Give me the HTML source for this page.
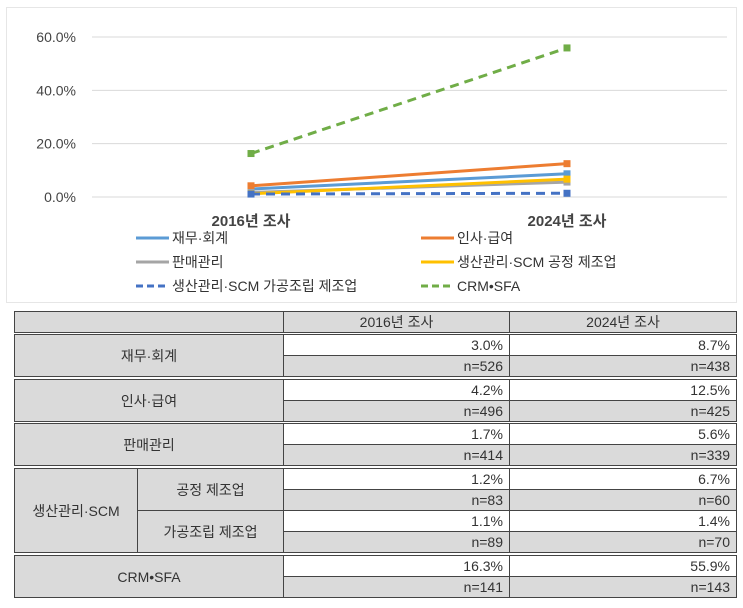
<!DOCTYPE html>
<html><head><meta charset="utf-8"><style>
body{margin:0;background:#fff;width:743px;height:608px;position:relative;overflow:hidden;font-family:"Liberation Sans","Noto Sans CJK KR",sans-serif;}
#frame{position:absolute;left:6px;top:7px;width:731px;height:296px;border:1px solid #e6e6e6;box-sizing:border-box}
.c{position:absolute;box-sizing:border-box;font-size:14px;color:#333;display:flex;align-items:center;border:1px solid #444}
.g{background:#dadada}.w{background:#fff}
.ctr{justify-content:center}.r{justify-content:flex-end;padding-right:6px}
</style></head><body>
<div id="frame"></div>
<svg id="chart" width="743" height="310" style="position:absolute;left:0;top:0"></svg>
<div id="table"></div>
<script>
const categories=["2016년 조사","2024년 조사"];
const yTicks=[0,20,40,60];
const seriesNames=["재무·회계","인사·급여","판매관리","생산관리·SCM 공정 제조업","생산관리·SCM 가공조립 제조업","CRM•SFA"];
const seriesColors=["#5b9bd5","#ed7d31","#a5a5a5","#ffc000","#4472c4","#70ad47"];
const seriesDash=[false,false,false,false,true,true];
const v2016=[3.0,4.2,1.7,1.2,1.1,16.3];
const v2024=[8.7,12.5,5.6,6.7,1.4,55.9];
const n2016=[526,496,414,83,89,141];
const n2024=[438,425,339,60,70,143];

const NS="http://www.w3.org/2000/svg";
const svg=document.getElementById('chart');
const y=v=>197-v*(160/60);
const x=i=>251+i*316;
function mk(t,a){const e=document.createElementNS(NS,t);for(const k in a)e.setAttribute(k,a[k]);svg.appendChild(e);return e;}
yTicks.forEach(t=>{
 const l=mk('line',{x1:92,x2:727,y1:y(t),y2:y(t),stroke:'#d9d9d9','stroke-width':1});
 
 
 const tx=mk('text',{x:76,y:y(t)+5,'text-anchor':'end','font-size':14,fill:'#444'});tx.textContent=t.toFixed(1)+'%';
 
 
});
categories.forEach((c,i)=>{
 const tx=mk('text',{x:x(i),y:226,'text-anchor':'middle','font-size':15,'font-weight':'bold',fill:'#444'});tx.textContent=c;
 
 
});
seriesNames.forEach((s,k)=>{
 const a={x1:x(0),y1:y(v2016[k]),x2:x(1),y2:y(v2024[k]),stroke:seriesColors[k],'stroke-width':3};
 if(seriesDash[k])a['stroke-dasharray']='9,6';
 const l=mk('line',a);
 
 
 [[0,v2016[k]],[1,v2024[k]]].forEach(([i,v])=>{
  const m=mk('rect',{x:x(i)-3.5,y:y(v)-3.5,width:7,height:7,fill:seriesColors[k]});
  
  
 });
 const col=k%2,row=Math.floor(k/2);
 const lx=col?421:136,ly=238+row*24;
 const la={x1:lx,x2:lx+33,y1:ly,y2:ly,stroke:seriesColors[k],'stroke-width':3};
 if(seriesDash[k])la['stroke-dasharray']='7,4';
 const ll=mk('line',la);
 
 
 const tx=mk('text',{x:lx+36,y:ly+5,'font-size':14,fill:'#333'});tx.textContent=s;
 
 
});

const tb=document.getElementById('table');
function cell(x1,y1,x2,y2,cls,txt,name){const d=document.createElement('div');d.className='c '+cls;d.style.left=x1+'px';d.style.top=y1+'px';d.style.width=(x2-x1+1)+'px';d.style.height=(y2-y1+1)+'px';d.textContent=txt;
 
 
 tb.appendChild(d);}
const C0=14,C1=137,C2=283,C3=509,C4=736;
cell(C0,311,C2,332,'g','', 'header-corner');
cell(C2,311,C3,332,'g ctr',categories[0],'header-2016');
cell(C3,311,C4,332,'g ctr',categories[1],'header-2024');
const groups=[[334,376],[379,421],[423,465],[468,510],[510,552],[555,597]];
const labels=["재무·회계","인사·급여","판매관리","공정 제조업","가공조립 제조업","CRM•SFA"];
groups.forEach(([a,b],k)=>{
 const m=Math.round((a+b)/2);
 if(k===3||k===4) cell(C1,a,C2,b,'g ctr',labels[k],'row-label');
 else cell(C0,a,C2,b,'g ctr',labels[k],'row-label');
 cell(C2,a,C3,m,'w r',v2016[k].toFixed(1)+'%','value-2016');
 cell(C3,a,C4,m,'w r',v2024[k].toFixed(1)+'%','value-2024');
 cell(C2,m,C3,b,'g r','n='+n2016[k],'n-2016');
 cell(C3,m,C4,b,'g r','n='+n2024[k],'n-2024');
});
cell(C0,468,C1,552,'g ctr','생산관리·SCM','row-label-scm');
</script>
</body></html>
